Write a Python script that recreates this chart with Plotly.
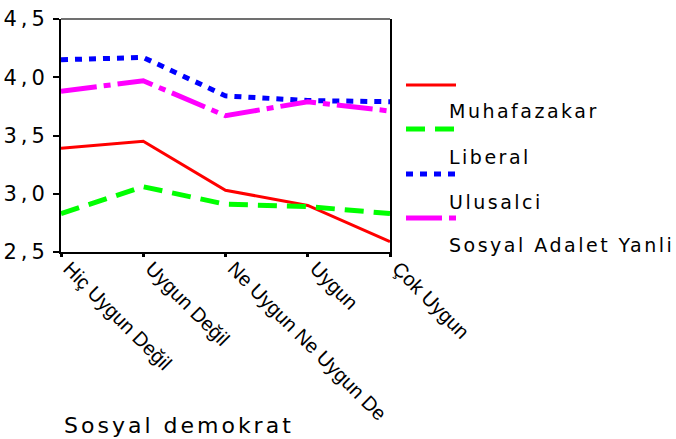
import plotly.graph_objects as go

categories = ["Hiç Uygun Değil", "Uygun Değil", "Ne Uygun Ne Uygun De", "Uygun", "Çok Uygun"]
series_names = ["Muhafazakar", "Liberal", "Ulusalci", "Sosyal Adalet Yanli"]
muhafazakar = [3.39, 3.45, 3.03, 2.90, 2.59]
liberal = [2.83, 3.06, 2.91, 2.89, 2.83]
ulusalci = [4.15, 4.17, 3.84, 3.80, 3.79]
sosyal_adalet = [3.88, 3.97, 3.67, 3.79, 3.71]
y_ticks = [2.5, 3.0, 3.5, 4.0, 4.5]
y_tick_labels = ["2,5", "3,0", "3,5", "4,0", "4,5"]
x_title = "Sosyal demokrat"

values = [muhafazakar, liberal, ulusalci, sosyal_adalet]
colors = ["#ff0000", "#00ff00", "#0000ff", "#ff00ff"]
widths = [3, 5, 5, 5]
dashes = ["solid", "19px,10px", "7px,7px", "36px,7px,7px,7px"]

W, H = 676, 439
L, R, T, B = 61, 390, 19, 252


def px(x):
    return (x - L) / (R - L)


def py(y):
    return (B - y) / (B - T)


FONT = "Liberation Sans, Arial, sans-serif"
WIDE = "DejaVu Sans, sans-serif"

fig = go.Figure()
for name, vals, c, w, d in zip(series_names, values, colors, widths, dashes):
    fig.add_trace(go.Scatter(x=categories, y=vals, mode="lines", name=name,
                             line=dict(color=c, width=w, dash=d), showlegend=False))

fig.update_layout(
    width=W, height=H,
    margin=dict(l=L, r=W - R, t=T, b=H - B, autoexpand=False),
    paper_bgcolor="white", plot_bgcolor="white",
    font=dict(family=FONT, color="black"),
    showlegend=False,
)
fig.update_xaxes(
    type="category", categoryorder="array", categoryarray=categories,
    range=[0, len(categories) - 1], automargin=False,
    showgrid=False, zeroline=False,
    showline=True, linecolor="black", linewidth=2, mirror=False,
    ticks="outside", ticklen=3, tickwidth=3, tickcolor="black",
    tickangle=45, tickfont=dict(size=20, family=FONT),
    ticklabelshift=8, ticklabelstandoff=-8,
)
fig.update_yaxes(
    range=[y_ticks[0], y_ticks[-1]], automargin=False,
    tickvals=y_ticks,
    ticktext=[f'<span style="letter-spacing:4px">{t}</span>' for t in y_tick_labels],
    showgrid=False, zeroline=False,
    showline=True, linecolor="black", linewidth=2, mirror=True,
    ticks="outside", ticklen=6, tickwidth=2, tickcolor="black",
    tickfont=dict(size=21, family=WIDE),
    ticklabelstandoff=0,
)
# top border (gray)
fig.add_shape(type="line", xref="paper", yref="paper", x0=0, x1=1, y0=1, y1=1,
              line=dict(color="#707070", width=2))

# manual legend (offset like the source)
sample_rows = [85, 129, 174, 218]
label_rows = [111, 157, 202, 245]
for name, c, w, d, ys, yl in zip(series_names, colors, widths, dashes, sample_rows, label_rows):
    fig.add_shape(type="line", xref="paper", yref="paper",
                  x0=px(406), x1=px(456), y0=py(ys), y1=py(ys),
                  line=dict(color=c, width=w, dash=d))
    fig.add_annotation(xref="paper", yref="paper", x=px(447), y=py(yl),
                       xanchor="left", yanchor="middle", showarrow=False,
                       text=f'<span style="letter-spacing:2.5px">{name}</span>',
                       font=dict(size=19, family=WIDE, color="black"))

fig.add_annotation(xref="paper", yref="paper", x=px(62), y=py(425),
                   xanchor="left", yanchor="middle", showarrow=False,
                   text=f'<span style="letter-spacing:3px">{x_title}</span>',
                   font=dict(size=22, family=WIDE, color="black"))

fig.write_html("out.html", config={"displayModeBar": False},
               post_script="document.body.style.margin='0';document.body.style.overflow='hidden';")
